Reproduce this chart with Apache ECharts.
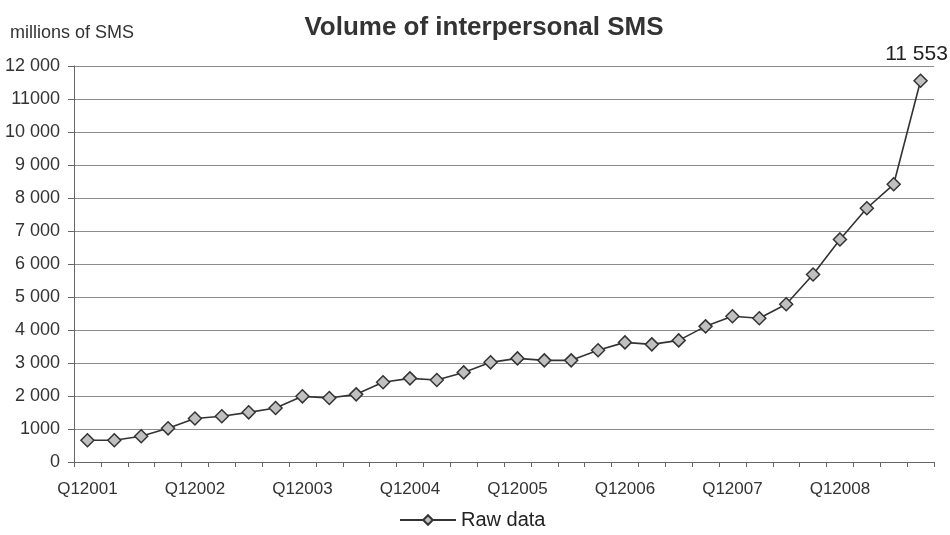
<!DOCTYPE html>
<html>
<head>
<meta charset="utf-8">
<script src="https://cdn.jsdelivr.net/npm/echarts@6/dist/echarts.min.js"></script>
<style>html,body{margin:0;padding:0;background:#fff;}#c{width:950px;height:535px;}</style>
</head>
<body>
<div id="c"></div>
<script>
const years = [2001, 2002, 2003, 2004, 2005, 2006, 2007, 2008];
const categories = [];
years.forEach(y => { for (let q = 1; q <= 4; q++) categories.push('Q' + q + y); });
const rawData = [660, 660, 780, 1020, 1320, 1385, 1505, 1635,
                 1990, 1940, 2050, 2415, 2535, 2485, 2715, 3020,
                 3140, 3080, 3080, 3385, 3625, 3565, 3685, 4110,
                 4415, 4355, 4780, 5680, 6745, 7690, 8415, 11553];
const yTickLabels = {0:'0',1000:'1000',2000:'2 000',3000:'3 000',4000:'4 000',5000:'5 000',6000:'6 000',7000:'7 000',8000:'8 000',9000:'9 000',10000:'10 000',11000:'11000',12000:'12 000'};
const lastLabel = '11 553';

const chart = echarts.init(document.getElementById('c'));
const seriesData = rawData.map((v, i) => i === rawData.length - 1
  ? {value: v, label: {show: true, position: 'top', distance: 9, offset: [-4, 0], formatter: lastLabel, color: '#222', fontSize: 21, fontFamily: 'Liberation Sans'}}
  : v);
chart.setOption({
  animation: false,
  backgroundColor: '#fff',
  textStyle: {fontFamily: 'Liberation Sans'},
  title: {
    text: 'Volume of interpersonal SMS',
    left: 479, textAlign: 'center', top: 10,
    textStyle: {fontSize: 26, fontWeight: 'bold', color: '#333', fontFamily: 'Liberation Sans'}
  },
  graphic: [{
    type: 'text', left: 10, top: 24,
    style: {text: 'millions of SMS', fontSize: 18, fill: '#333', fontFamily: 'Liberation Sans'}
  }],
  legend: {
    bottom: 0, left: 394,
    itemWidth: 56, itemHeight: 12, itemGap: 6,
    textStyle: {fontSize: 20, color: '#222', fontFamily: 'Liberation Sans'},
    data: ['Raw data']
  },
  grid: {left: 74, right: 16, top: 66, bottom: 73},
  xAxis: {
    type: 'category', data: categories, boundaryGap: true,
    axisLine: {lineStyle: {color: '#666', width: 1}},
    axisTick: {show: true, interval: 0, length: 5, lineStyle: {color: '#666'}},
    axisLabel: {interval: 3, fontSize: 17, color: '#333', margin: 19, fontFamily: 'Liberation Sans'},
    splitLine: {show: false}
  },
  yAxis: {
    type: 'value', min: 0, max: 12000, interval: 1000,
    axisLine: {show: true, lineStyle: {color: '#666', width: 1}},
    axisTick: {show: true, length: 6, lineStyle: {color: '#666'}},
    axisLabel: {fontSize: 18, color: '#333', margin: 14, fontFamily: 'Liberation Sans', formatter: v => yTickLabels[v]},
    splitLine: {lineStyle: {color: '#8c8c8c', width: 1}}
  },
  series: [{
    name: 'Raw data', type: 'line', data: seriesData,
    symbol: 'diamond', symbolSize: 13,
    lineStyle: {color: '#333', width: 1.6},
    itemStyle: {color: '#c0c0c0', borderColor: '#333', borderWidth: 1.5}
  }]
});
</script>
</body>
</html>
